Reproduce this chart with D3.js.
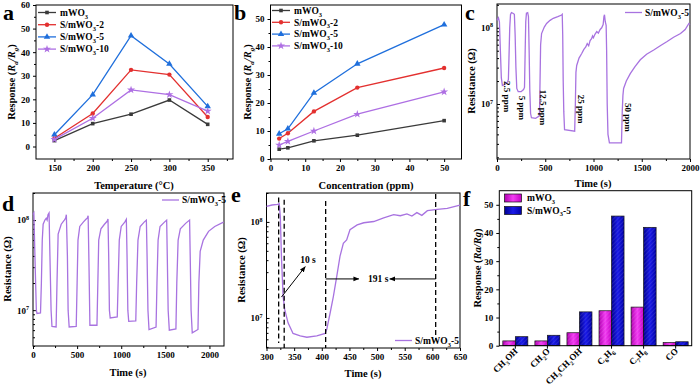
<!DOCTYPE html>
<html>
<head>
<meta charset="utf-8">
<script src="https://cdn.jsdelivr.net/npm/d3@7"></script>
<style>
  body { margin: 0; background: #fff; }
  svg text { font-family: "Liberation Serif", "Times New Roman", serif; font-weight: bold; }
</style>
</head>
<body>
<div id="chart"></div>
<script>
// ---- data ----
const tempC = [150, 200, 250, 300, 350];
const concPpm = [2.5, 5, 12.5, 25, 50];

const tempResp_m = [2.5, 9.7, 13.7, 19.7, 9.4];
const tempResp_s2 = [3.5, 14, 32.5, 30.5, 12.5];
const tempResp_s5 = [5, 22, 47, 35, 17];
const tempResp_s10 = [3, 12, 24, 22, 15];

const concResp_m = [3.5, 4, 6.5, 8.5, 13.7];
const concResp_s2 = [7.3, 9.2, 17, 25.5, 32.5];
const concResp_s5 = [9, 10.8, 23.6, 34, 48];
const concResp_s10 = [5, 6.3, 10, 16, 24];

// panel c: dynamic response to 2.5-50 ppm
const cTime = [0, 15, 25, 35, 45, 56, 80, 110, 118, 124, 132, 140, 150, 165, 180, 188, 196, 205, 220, 250, 275, 285,
  292, 298, 305, 318, 326, 333, 340, 348, 357, 400, 440, 446, 452, 462, 490, 514, 550, 583, 630, 670, 676, 681, 686,
  692, 700, 805, 812, 818, 826, 850, 878, 900, 920, 935, 950, 965, 980, 990, 999, 1015, 1034, 1050, 1069, 1085, 1100,
  1108, 1114, 1122, 1131, 1136, 1142, 1150, 1165, 1290, 1298, 1305, 1312, 1340, 1381, 1430, 1485, 1550, 1624, 1700,
  1763, 1830, 1902, 1950, 1988, 2000];
const cRes = [1.25e8, 1.35e8, 1.2e8, 5e7, 2.2e7, 1.75e7, 1.8e7, 1.95e7, 2.1e7, 4e7, 1e8, 1.5e8, 1.58e8, 1.55e8, 1.5e8,
  8e7, 3e7, 1.6e7, 1.45e7, 1.45e7, 1.55e7, 1.65e7, 5e7, 1.2e8, 1.55e8, 1.58e8, 1.4e8, 5e7, 1.5e7, 7.5e6, 6.6e6, 6.5e6,
  7e6, 2e7, 6e7, 8.4e7, 1.02e8, 1.14e8, 1.25e8, 1.33e8, 1.4e8, 1.47e8, 1.5e8, 8e7, 2e7, 8e6, 4.6e6, 4.4e6, 1e7, 2.6e7,
  3.2e7, 4e7, 4.6e7, 5.2e7, 5.6e7, 6.2e7, 5.8e7, 6.8e7, 7.2e7, 7.8e7, 7.4e7, 8.2e7, 8.9e7, 8.5e7, 9.5e7, 1e8, 1.1e8,
  1.4e8, 1.48e8, 1.2e8, 1.08e8, 5e7, 1e7, 4e6, 3.1e6, 3.1e6, 8e6, 1.3e7, 1.6e7, 2e7, 2.5e7, 3.1e7, 3.8e7, 4.5e7, 5.1e7,
  5.9e7, 6.6e7, 7.5e7, 8.4e7, 9.5e7, 1.14e8, 1.1e8];
const cLabels = ["2.5 ppm", "5 ppm", "12.5 ppm", "25 ppm", "50 ppm"];
const cLabelTime = [109, 264, 477, 870, 1357];
const cLabelRes = [1.25e7, 8.9e6, 9.0e6, 8.6e6, 6.7e6];

// panel d: repeated cycles
const dTime = [0, 10, 25, 38, 45, 85, 95, 105, 115, 135, 150, 160, 170, 182, 192, 205, 215, 262, 272, 285, 320, 355,
  370, 378, 390, 398, 410, 490, 500, 510, 530, 570, 600, 615, 625, 635, 645, 725, 735, 745, 770, 810, 840, 850, 858,
  866, 875, 955, 965, 978, 1000, 1040, 1058, 1066, 1075, 1085, 1165, 1175, 1190, 1215, 1260, 1285, 1293, 1303, 1315,
  1395, 1405, 1418, 1440, 1490, 1515, 1522, 1532, 1545, 1620, 1630, 1645, 1670, 1730, 1775, 1782, 1792, 1805, 1870,
  1880, 1895, 1930, 1990, 2060, 2160];
const dRes = [1.15e8, 1.2e8, 3e7, 1e7, 9.2e6, 9.3e6, 2e7, 6e7, 9e7, 1e8, 1.05e8, 1e8, 1.15e8, 1.2e8, 4e7, 1e7, 6.6e6,
  6.5e6, 2e7, 7e7, 9e7, 1e8, 1.05e8, 1.15e8, 4e7, 1e7, 6.5e6, 6.6e6, 2e7, 6e7, 8.5e7, 9.5e7, 1.02e8, 1.05e8, 1.12e8,
  3e7, 6.8e6, 6.8e6, 2e7, 6e7, 8e7, 9e7, 9.7e7, 1.03e8, 4e7, 1e7, 8.2e6, 8.4e6, 2e7, 6e7, 8.5e7, 9.5e7, 1.02e8, 4e7,
  1e7, 7.5e6, 7.6e6, 2e7, 6e7, 8.5e7, 9.5e7, 1e8, 4e7, 1e7, 6.1e6, 6.5e6, 2e7, 6e7, 8.5e7, 9.5e7, 1e8, 4e7, 1e7, 6e6,
  6.2e6, 2e7, 6e7, 8e7, 9.2e7, 1e8, 4e7, 1e7, 5.6e6, 6.1e6, 2e7, 4.5e7, 6e7, 7.5e7, 8.5e7, 9.5e7];

// panel e: single cycle, response / recovery time
const eTime = [300, 310, 320, 323, 325, 327, 330, 333, 339, 348, 361, 373, 391, 406, 409, 415, 421, 427, 433, 439, 445,
  451, 464, 476, 494, 512, 530, 542, 554, 563, 572, 581, 591, 609, 627, 650];
const eRes = [1.45e8, 1.5e8, 1.52e8, 1.55e8, 1.14e8, 4.4e7, 1.68e7, 1.22e7, 8.9e6, 6.9e6, 6.5e6, 6.3e6, 6.5e6, 6.9e6,
  7.6e6, 1.12e7, 1.68e7, 2.7e7, 4.4e7, 6e7, 6.5e7, 8.3e7, 9.3e7, 9.8e7, 1.01e8, 1.1e8, 1.19e8, 1.16e8, 1.21e8, 1.15e8,
  1.25e8, 1.17e8, 1.31e8, 1.35e8, 1.38e8, 1.5e8];
const eMarks = [322, 332, 407, 606];

// panel f: selectivity
const gases = ["CH3OH", "CH2O", "CH3CH2OH", "C6H6", "C7H8", "CO"];
const selResp_m = [1.7, 1.7, 4.6, 12.4, 13.7, 1.1];
const selResp_s5 = [3.2, 3.7, 12, 46, 42, 1.4];

// ---- drawing ----
const svg = d3.select("#chart").append("svg")
  .attr("width", 700)
  .attr("height", 388);

// appends tspans for sub/superscript & italic bits
function rich(t, parts, fs) {
  let shift = 0;
  parts.forEach(p => {
    const s = p[0], k = (p[1] || "").split(" ");
    let target = 0, size = fs;
    if (k.includes("sub")) { target = fs * 0.3; size = fs * 0.68; }
    if (k.includes("sup")) { target = -fs * 0.42; size = fs * 0.68; }
    const ts = t.append("tspan").text(s).attr("font-size", size);
    if (target !== shift) ts.attr("dy", target - shift);
    if (k.includes("i")) ts.attr("font-style", "italic");
    shift = target;
  });
  return t;
}

function formula(str) {
  // digits become subscripts
  return str.split(/(\d+)/).filter(s => s).map(s => /\d/.test(s) ? [s, "sub"] : [s, ""]);
}

const sampleParts = {
  m: [["mWO", ""], ["3", "sub"]],
  s2: [["S/mWO", ""], ["3", "sub"], ["-2", ""]],
  s5: [["S/mWO", ""], ["3", "sub"], ["-5", ""]],
  s10: [["S/mWO", ""], ["3", "sub"], ["-10", ""]]
};
const responseTitle = [["Response (", ""], ["R", "i"], ["a", "i sub"], ["/", "i"], ["R", "i"], ["g", "i sub"], [")", ""]];
const resistTitle = [["Resistance (Ω)", ""]];
const purple = "#a873e0";

function frame(g, b) {
  g.append("rect")
    .attr("x", b.x0).attr("y", b.y0)
    .attr("width", b.x1 - b.x0).attr("height", b.y1 - b.y0)
    .attr("fill", "none").attr("stroke", "#000").attr("stroke-width", 1);
}

function styleAxis(a, fs) {
  a.select(".domain").remove();
  a.attr("font-family", null).attr("font-size", fs);
  a.selectAll("line").attr("stroke", "#000");
}

function bottomAxis(g, x, yPos, major, minor, fmt) {
  const a = g.append("g").attr("transform", `translate(0,${yPos})`)
    .call(d3.axisBottom(x).tickValues(major).tickSize(3).tickPadding(3).tickFormat(fmt || d3.format("d")));
  styleAxis(a, 9);
  if (minor) {
    const m = g.append("g").attr("transform", `translate(0,${yPos})`)
      .call(d3.axisBottom(x).tickValues(minor).tickSize(2).tickFormat(""));
    styleAxis(m, 9);
  }
}

function leftAxis(g, y, xPos, major, minor, inward) {
  const s = inward ? -3 : 3;
  const a = g.append("g").attr("transform", `translate(${xPos},0)`)
    .call(d3.axisLeft(y).tickValues(major).tickSize(s).tickPadding(inward ? 4 : 3).tickFormat(d3.format("d")));
  styleAxis(a, 9);
  if (minor) {
    const m = g.append("g").attr("transform", `translate(${xPos},0)`)
      .call(d3.axisLeft(y).tickValues(minor).tickSize(inward ? -2 : 2).tickFormat(""));
    styleAxis(m, 9);
  }
  return a;
}

function logAxis(g, y, xPos) {
  const [lo, hi] = y.domain();
  const major = [], minor = [];
  for (let e = Math.floor(Math.log10(lo)); e <= Math.ceil(Math.log10(hi)); e++) {
    for (let k = 1; k < 10; k++) {
      const v = k * Math.pow(10, e);
      if (v < lo || v > hi) continue;
      (k === 1 ? major : minor).push(v);
    }
  }
  const a = leftAxis(g, y, xPos, major, minor, true);
  a.selectAll(".tick text").each(function(d) {
    const t = d3.select(this).text("");
    rich(t, [["10", ""], [String(Math.round(Math.log10(d))), "sup"]], 9);
  });
}

function panelLetter(ch, x, y) {
  svg.append("text").attr("x", x).attr("y", y).attr("font-size", 22).text(ch);
}

function xTitle(str, cx, y) {
  svg.append("text").attr("x", cx).attr("y", y).attr("text-anchor", "middle")
    .attr("font-size", 10.5).text(str);
}

function yTitle(parts, x, cy) {
  const t = svg.append("text").attr("transform", `translate(${x},${cy}) rotate(-90)`)
    .attr("text-anchor", "middle").attr("font-size", 10.5);
  rich(t, parts, 10.5);
}

// ---- panels a & b: response line charts ----
const seriesStyle = [
  { key: "m", color: "#3a3a3a", sym: d3.symbolSquare, size: 13 },
  { key: "s2", color: "#e3302f", sym: d3.symbolCircle, size: 15 },
  { key: "s5", color: "#1f6fdc", sym: d3.symbolTriangle, size: 18 },
  { key: "s10", color: "#ae6fe3", sym: d3.symbolStar, size: 20 }
];

function responsePanel(b, xDomain, yDomain, xVals, series, xMajor, xMinor, yMajor, yMinor, legend) {
  const g = svg.append("g");
  const x = d3.scaleLinear().domain(xDomain).range([b.x0, b.x1]);
  const y = d3.scaleLinear().domain(yDomain).range([b.y1, b.y0]);
  frame(g, b);
  bottomAxis(g, x, b.y1, xMajor, xMinor);
  leftAxis(g, y, b.x0, yMajor, yMinor, false);

  const line = d3.line().x(d => x(d[0])).y(d => y(d[1]));
  series.forEach((vals, i) => {
    const st = seriesStyle[i];
    const pts = xVals.map((v, j) => [v, vals[j]]);
    g.append("path").datum(pts).attr("d", line)
      .attr("fill", "none").attr("stroke", st.color).attr("stroke-width", 1.3);
    g.selectAll(null).data(pts).enter().append("path")
      .attr("transform", d => `translate(${x(d[0])},${y(d[1])})`)
      .attr("d", d3.symbol(st.sym, st.size))
      .attr("fill", st.color);
  });

  seriesStyle.forEach((st, i) => {
    const ly = legend.y + i * legend.dy;
    g.append("line").attr("x1", legend.x).attr("x2", legend.x + 18)
      .attr("y1", ly).attr("y2", ly).attr("stroke", st.color).attr("stroke-width", 1.3);
    g.append("path").attr("transform", `translate(${legend.x + 9},${ly})`)
      .attr("d", d3.symbol(st.sym, st.size)).attr("fill", st.color);
    const t = g.append("text").attr("x", legend.x + 22).attr("y", ly + 3.2).attr("font-size", 9.5);
    rich(t, sampleParts[st.key], 9.5);
  });
}

responsePanel({ x0: 36, x1: 233, y0: 5, y1: 159 }, [126, 383], [-5.3, 60], tempC,
  [tempResp_m, tempResp_s2, tempResp_s5, tempResp_s10],
  [150, 200, 250, 300, 350], [175, 225, 275, 325, 375],
  d3.range(0, 61, 10), d3.range(5, 60, 10),
  { x: 38, y: 12.5, dy: 12.2 });
panelLetter("a", 3, 20);
xTitle("Temperature (°C)", 134, 189);
yTitle(responseTitle, 15, 82);

responsePanel({ x0: 270.5, x1: 461.5, y0: 5, y1: 159 }, [0, 55], [0, 55], concPpm,
  [concResp_m, concResp_s2, concResp_s5, concResp_s10],
  d3.range(0, 51, 10), d3.range(5, 55, 10),
  d3.range(0, 51, 10), d3.range(5, 55, 10),
  { x: 272, y: 10.5, dy: 11.8 });
panelLetter("b", 234, 20);
xTitle("Concentration (ppm)", 366, 189);
yTitle(responseTitle, 251, 82);

// ---- panels c, d, e: resistance transients ----
function transientPanel(b, xDomain, yDomain, times, res, xMajor, xMinor) {
  const g = svg.append("g");
  const x = d3.scaleLinear().domain(xDomain).range([b.x0, b.x1]);
  const y = d3.scaleLog().domain(yDomain).range([b.y1, b.y0]);
  frame(g, b);
  bottomAxis(g, x, b.y1, xMajor, xMinor);
  logAxis(g, y, b.x0);
  const pts = times.map((t, i) => [t, res[i]]);
  g.append("path").datum(pts)
    .attr("d", d3.line().x(d => x(d[0])).y(d => y(d[1])))
    .attr("fill", "none").attr("stroke", purple).attr("stroke-width", 1.3);
  return { g, x, y };
}

function curveLegend(g, lx, ly) {
  g.append("line").attr("x1", lx).attr("x2", lx + 17).attr("y1", ly).attr("y2", ly)
    .attr("stroke", purple).attr("stroke-width", 1.3);
  const t = g.append("text").attr("x", lx + 20).attr("y", ly + 3.2).attr("font-size", 9.5);
  rich(t, sampleParts.s5, 9.5);
}

const pc = transientPanel({ x0: 497, x1: 690, y0: 4, y1: 159 }, [0, 2000], [1.9e6, 2.05e8],
  cTime, cRes, [0, 500, 1000, 1500, 2000], [250, 750, 1250, 1750]);
curveLegend(pc.g, 625, 12.5);
cLabels.forEach((s, i) => {
  pc.g.append("text")
    .attr("transform", `translate(${pc.x(cLabelTime[i])},${pc.y(cLabelRes[i])}) rotate(90)`)
    .attr("text-anchor", "middle").attr("dy", "0.35em").attr("font-size", 9).text(s);
});
panelLetter("c", 465, 20);
xTitle("Time (s)", 593, 187);
yTitle(resistTitle, 475, 81);

const pd = transientPanel({ x0: 33, x1: 224, y0: 193, y1: 346 }, [0, 2165], [4e6, 2e8],
  dTime, dRes, [0, 500, 1000, 1500, 2000], [250, 750, 1250, 1750]);
curveLegend(pd.g, 162, 200);
panelLetter("d", 2, 211);
xTitle("Time (s)", 128, 376);
yTitle(resistTitle, 11, 269);

const pe = transientPanel({ x0: 266.5, x1: 460, y0: 193, y1: 348 }, [300, 650], [4.87e6, 2e8],
  eTime, eRes, d3.range(300, 651, 50), d3.range(325, 650, 50));
curveLegend(pe.g, 395, 340.5);
// dashed markers for response / recovery
const dashTop = [1.8e8, 1.7e8, 1.65e8, 1.95e8];
const dashBot = [5.5e6, 4.87e6, 4.87e6, 6e6];
eMarks.forEach((t, i) => {
  pe.g.append("line").attr("x1", pe.x(t)).attr("x2", pe.x(t))
    .attr("y1", pe.y(dashTop[i])).attr("y2", pe.y(dashBot[i]))
    .attr("stroke", "#000").attr("stroke-width", 1.3).attr("stroke-dasharray", "5,3");
});
svg.append("defs").append("marker")
  .attr("id", "arrow").attr("viewBox", "0 0 10 10").attr("refX", 9).attr("refY", 5)
  .attr("markerWidth", 6).attr("markerHeight", 6).attr("orient", "auto-start-reverse")
  .append("path").attr("d", "M0,1 L10,5 L0,9 Z").attr("fill", "#000");
function arrow(g, x1, y1, x2, y2) {
  g.append("line").attr("x1", x1).attr("y1", y1).attr("x2", x2).attr("y2", y2)
    .attr("stroke", "#000").attr("stroke-width", 1).attr("marker-end", "url(#arrow)");
}
arrow(pe.g, pe.x(327), pe.y(1.65e7), pe.x(370), pe.y(3.42e7));
pe.g.append("text").attr("x", pe.x(375)).attr("y", pe.y(3.75e7))
  .attr("text-anchor", "middle").attr("font-size", 9.5).text("10 s");
const hArrowR = 2.55e7;
arrow(pe.g, pe.x(eMarks[2]), pe.y(hArrowR), pe.x(467), pe.y(hArrowR));
arrow(pe.g, pe.x(eMarks[3]), pe.y(hArrowR), pe.x(523), pe.y(hArrowR));
pe.g.append("text").attr("x", pe.x(502)).attr("y", pe.y(hArrowR) + 3.3)
  .attr("text-anchor", "middle").attr("font-size", 9.5).text("191 s");
panelLetter("e", 231, 202);
xTitle("Time (s)", 363, 377);
yTitle(resistTitle, 245, 270);

// ---- panel f: selectivity bars ----
(function() {
  const b = { x0: 499.3, x1: 691.7, y0: 190.7, y1: 345.7 };
  const g = svg.append("g");
  const x = d3.scaleBand().domain(gases).range([b.x0, b.x1]).paddingInner(0.22).paddingOuter(0.11);
  const y = d3.scaleLinear().domain([0, 55]).range([b.y1, b.y0]);

  const defs = svg.append("defs");
  function grad(id, c0, c1, c2) {
    const lg = defs.append("linearGradient").attr("id", id);
    lg.append("stop").attr("offset", "0%").attr("stop-color", c0);
    lg.append("stop").attr("offset", "50%").attr("stop-color", c1);
    lg.append("stop").attr("offset", "100%").attr("stop-color", c2);
  }
  grad("gM", "#b000b0", "#f23cf2", "#c400c4");
  grad("gB", "#00008f", "#1a1ae8", "#0000a8");
  const hatch = defs.append("pattern").attr("id", "hatch").attr("width", 3).attr("height", 3)
    .attr("patternUnits", "userSpaceOnUse").attr("patternTransform", "rotate(45)");
  hatch.append("line").attr("x1", 0).attr("y1", 0).attr("x2", 0).attr("y2", 3)
    .attr("stroke", "#fff").attr("stroke-width", 0.8).attr("stroke-opacity", 0.25);

  const bw = x.bandwidth() / 2;
  const sets = [{ vals: selResp_m, fill: "url(#gM)", off: 0 }, { vals: selResp_s5, fill: "url(#gB)", off: bw }];
  sets.forEach(s => {
    const bars = g.selectAll(null).data(gases).enter();
    bars.append("rect")
      .attr("x", (d) => x(d) + s.off).attr("width", bw)
      .attr("y", (d, i) => y(s.vals[i])).attr("height", (d, i) => y(0) - y(s.vals[i]))
      .attr("fill", s.fill).attr("stroke", "#111").attr("stroke-width", 0.7);
    g.selectAll(null).data(gases).enter().append("rect")
      .attr("x", (d) => x(d) + s.off).attr("width", bw)
      .attr("y", (d, i) => y(s.vals[i])).attr("height", (d, i) => y(0) - y(s.vals[i]))
      .attr("fill", "url(#hatch)");
  });

  frame(g, b);
  leftAxis(g, y, b.x0, d3.range(0, 51, 10), d3.range(5, 55, 10), false);
  const xa = g.append("g").attr("transform", `translate(0,${b.y1})`)
    .call(d3.axisBottom(x).tickSize(3).tickFormat(""));
  styleAxis(xa, 9);
  gases.forEach(gs => {
    const t = g.append("text")
      .attr("transform", `translate(${x(gs) + x.bandwidth() / 2 + 3},${b.y1 + 6}) rotate(-45)`)
      .attr("text-anchor", "end").attr("font-size", 9);
    rich(t, formula(gs), 9);
  });

  // legend
  const lg = [{ fill: "url(#gM)", parts: sampleParts.m, y: 194 }, { fill: "url(#gB)", parts: sampleParts.s5, y: 206.5 }];
  lg.forEach(l => {
    g.append("rect").attr("x", 504.5).attr("y", l.y).attr("width", 17).attr("height", 8)
      .attr("fill", l.fill).attr("stroke", "#111").attr("stroke-width", 0.7);
    const t = g.append("text").attr("x", 527).attr("y", l.y + 7).attr("font-size", 9.5);
    rich(t, l.parts, 9.5);
  });
})();
panelLetter("f", 463, 206);
yTitle([["Response (", ""], ["Ra/Rg", "i"], [")", ""]], 481, 268);
</script>
</body>
</html>
